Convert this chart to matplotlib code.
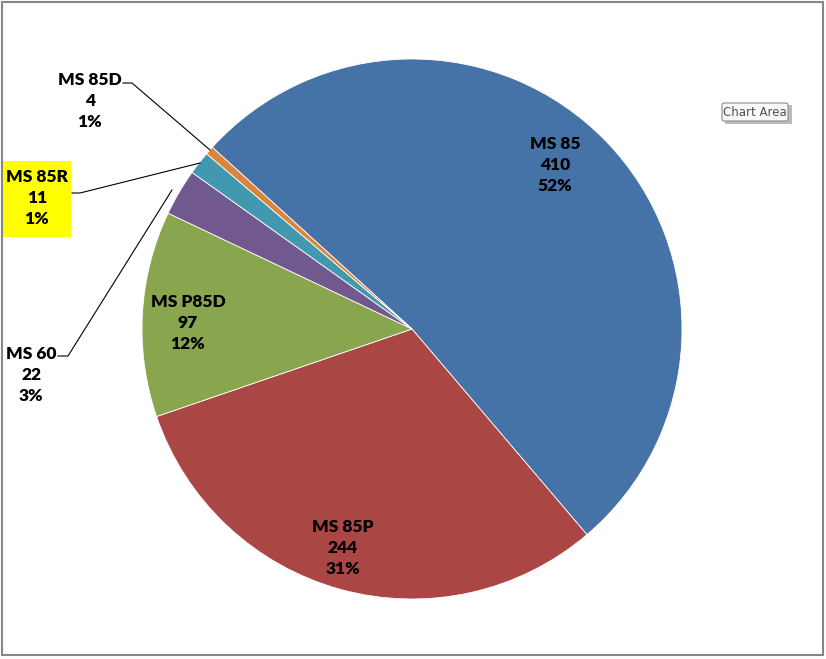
import matplotlib.pyplot as plt
from matplotlib.patches import Rectangle, FancyBboxPatch

# slice data (clockwise, Excel default palette)
labels = ['MS 85', 'MS 85P', 'MS P85D', 'MS 60', 'MS 85R', 'MS 85D']
values = [410, 244, 97, 22, 11, 4]
percents = ['52%', '31%', '12%', '3%', '1%', '1%']
colors = ['#4572A7', '#AA4643', '#89A54E', '#71588F', '#4198AF', '#DB843D']

W, H = 826, 659
fig = plt.figure(figsize=(W / 100, H / 100), dpi=100)
ax = fig.add_axes([0, 0, 1, 1])

cx, cy, r = 412, H - 329, 270
ax.pie(values, colors=colors, startangle=137.7, counterclock=False,
       center=(cx, cy), radius=r, frame=True,
       wedgeprops=dict(edgecolor='white', linewidth=0.6))
ax.set_xlim(0, W)
ax.set_ylim(0, H)
ax.set_aspect('equal')
ax.axis('off')

font = 'Lato'
# label centres in pixel coords (top-left origin)
label_pos = [(555, 165), (343, 548), (188, 323), (31, 375), (37, 198), (90, 101)]
for i, (px, py) in enumerate(label_pos):
    txt = f"{labels[i]}\n{values[i]}\n{percents[i]}"
    ax.text(px, H - py, txt, ha='center', va='center', fontsize=12.5,
            fontweight='heavy', family=font, linespacing=1.4, color='black')

# yellow highlight behind MS 85R
ax.add_patch(Rectangle((2, H - 237), 69, 76, facecolor='#FFFF00',
                       edgecolor='none', zorder=1))

# leader lines
leaders = [
    [(123, 83), (132, 83), (210, 150)],
    [(72, 193), (80, 193), (200, 163)],
    [(58, 356), (68, 356), (172, 190)],
]
for pts in leaders:
    xs = [p[0] for p in pts]
    ys = [H - p[1] for p in pts]
    ax.plot(xs, ys, color='black', linewidth=0.8)

# chart border
ax.add_patch(Rectangle((2, H - 655), 821, 653, facecolor='none',
                       edgecolor='#878787', linewidth=1.5, zorder=5))

# "Chart Area" tooltip
ax.add_patch(Rectangle((725, H - 124), 67, 19, facecolor='#BBBBBB',
                       edgecolor='none', zorder=6))
ax.add_patch(FancyBboxPatch((722, H - 121), 66, 18,
                            boxstyle='round,pad=0,rounding_size=2',
                            facecolor='#F8F8F8', edgecolor='#8A8A8A',
                            linewidth=0.8, zorder=7))
ax.text(755, H - 112, 'Chart Area', ha='center', va='center', fontsize=8.5,
        color='#505050', family='DejaVu Sans', zorder=8)

fig.savefig('out.png', dpi=100)
